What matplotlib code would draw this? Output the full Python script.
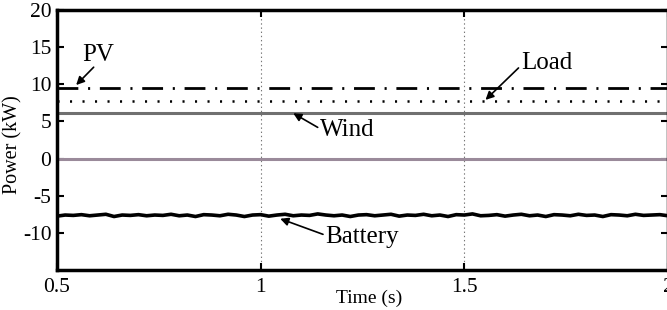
import numpy as np
import matplotlib
matplotlib.use("Agg")
import matplotlib.pyplot as plt

plt.rcParams["font.family"] = ["Liberation Serif", "DejaVu Serif"]
plt.rcParams["lines.scale_dashes"] = False
plt.rcParams["axes.unicode_minus"] = False

# data
t_span = [0.5, 2.0]
pv = [9.5, 9.5]
load = [7.8, 7.8]
wind = [6.2, 6.2]
grid = [0.0, 0.0]
battery = [-7.75, -7.6, -7.65, -7.55, -7.7, -7.6, -7.5, -7.8, -7.6, -7.65,
           -7.55, -7.7, -7.6, -7.65, -7.5, -7.7, -7.6, -7.8, -7.55, -7.6,
           -7.7, -7.5, -7.6, -7.8, -7.6, -7.55, -7.75, -7.6, -7.5, -7.7,
           -7.6, -7.65, -7.45, -7.6, -7.7, -7.6, -7.8, -7.6, -7.55, -7.7,
           -7.6, -7.5, -7.75, -7.6, -7.65, -7.5, -7.7, -7.6, -7.8, -7.55,
           -7.6, -7.45, -7.7, -7.65, -7.55, -7.75, -7.6, -7.5, -7.7, -7.6,
           -7.8, -7.55, -7.6, -7.7, -7.5, -7.65, -7.6, -7.8, -7.55, -7.6,
           -7.7, -7.5, -7.65, -7.6, -7.55, -7.7]
t_batt = np.linspace(t_span[0], t_span[1], len(battery))

xticks = [0.5, 1, 1.5, 2]
yticks = [-10, -5, 0, 5, 10, 15, 20]

fig = plt.figure(figsize=(6.67, 3.10), dpi=100)
ax = fig.add_axes([57 / 667, 1 - 270 / 310, 611 / 667, 260 / 310])

# grid lines only at x = 1 and 1.5
for xv in [1, 1.5]:
    ax.axvline(xv, color="#777777", lw=0.8, ls=(0, (1, 2)), zorder=1)

ax.plot(t_span, grid, color="#9a8a9a", lw=2.2, zorder=2)
ax.plot(t_span, wind, color="#707070", lw=2.2, zorder=2)
ax.plot(t_span, load, color="black", lw=1.8, dashes=(1.5, 7.5), zorder=3)
ax.plot(t_span, pv, color="black", lw=2.0, dashes=(15, 7, 1.5, 7), zorder=3)
ax.plot(t_batt, battery, color="black", lw=2.6, zorder=3)

ax.set_xlim(0.5, 2.0)
ax.set_ylim(-15, 20)
ax.set_xticks(xticks)
ax.set_xticklabels(["0.5", "1", "1.5", "2"])
ax.set_yticks(yticks)
ax.tick_params(direction="in", length=5, width=1.5, labelsize=15.5,
               top=True, right=True)
ax.tick_params(axis="x", pad=6)
ax.tick_params(axis="y", pad=4)
for s in ax.spines.values():
    s.set_linewidth(2.5)

fig.text(369 / 667, 1 - 298 / 310, "Time (s)", ha="center", va="center", fontsize=14)
fig.text(13 / 667, 1 - 145 / 310, "Power (kW)", ha="center", va="center",
         rotation=90, fontsize=14.5)

arrow = dict(arrowstyle="-|>", color="black", lw=1.2, mutation_scale=12,
             shrinkA=0, shrinkB=0)
ax.annotate("", xy=(0.547, 9.9), xytext=(0.59, 12.3), arrowprops=arrow)
ax.text(0.563, 13.9, "PV", fontsize=18, va="center", ha="left")
ax.annotate("", xy=(1.552, 7.9), xytext=(1.633, 12.2), arrowprops=arrow)
ax.text(1.64, 12.8, "Load", fontsize=18, va="center", ha="left")
ax.annotate("", xy=(1.08, 6.1), xytext=(1.14, 4.2), arrowprops=arrow)
ax.text(1.145, 3.8, "Wind", fontsize=18, va="center", ha="left")
ax.annotate("", xy=(1.048, -8.1), xytext=(1.153, -10.2), arrowprops=arrow)
ax.text(1.158, -10.6, "Battery", fontsize=18, va="center", ha="left")

fig.savefig("out.png", dpi=100)
